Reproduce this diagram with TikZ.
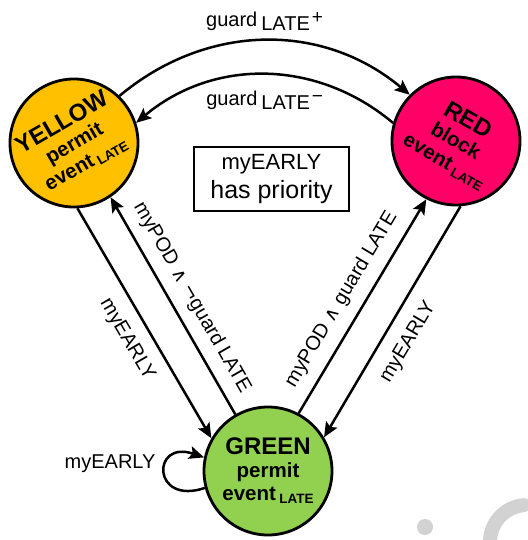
\documentclass[tikz,border=0pt]{standalone}
\usepackage{fontspec}
\setmainfont{Liberation Sans}
\newfontfamily\symfont{DejaVu Sans}
\usetikzlibrary{arrows.meta}

\definecolor{cyellow}{HTML}{FFC000}
\definecolor{cred}{HTML}{FF0066}
\definecolor{cgreen}{HTML}{92D050}

\newcommand{\lsub}[1]{\,\raisebox{-3pt}{\fontsize{13.5}{14}\selectfont#1}}
\newcommand{\glate}{guard\hspace{4pt}\raisebox{-4pt}{LATE}}
\newcommand{\sgn}[1]{\hspace{2pt}\raisebox{3pt}{\fontsize{19}{19}\selectfont#1}}
\newcommand{\sym}[1]{{\symfont\fontsize{19}{19}\selectfont#1}}

\begin{document}
\begin{tikzpicture}[x=1pt, y=1pt, >={Stealth[length=15pt,width=13pt,inset=3pt]}, line width=2.5pt,
    state/.style={circle, draw, line width=2.8pt, minimum size=128pt, inner sep=0pt, align=center,
      font=\bfseries\fontsize{20.5}{23}\selectfont},
    lbl/.style={font=\fontsize{20}{22}\selectfont, inner sep=2pt}]

    \useasboundingbox (0,0) rectangle (527,-540);

    \node[state, fill=cyellow, rotate=30] (yellow) at (74,-143)
      {{\fontsize{24}{26}\selectfont YELLOW}\\permit\\event\lsub{LATE}};
    \node[state, fill=cred, rotate=-30] (red) at (456,-141)
      {{\fontsize{24}{26}\selectfont RED}\\block\\event\lsub{LATE}};
    \node[state, fill=cgreen] (green) at (268,-471)
      {{\fontsize{24}{27}\selectfont GREEN}\\permit\\event\lsub{LATE}};

    \node[draw, line width=1.3pt, minimum width=155pt, minimum height=64pt, align=center,
      font=\fontsize{25}{29}\selectfont] (prio) at (271.5,-179)
      {{\fontsize{22}{26}\selectfont myEARLY}\\has priority};

    \draw[->] (yellow.16) to[out=40, in=140]
      node[lbl, midway, above=7pt] {\glate\sgn{+}} (red.165);
    \draw[->] (red.194) to[out=140, in=40]
      node[lbl, midway, below=13pt] {\glate\sgn{−}} (yellow.-12);

    \draw[->] (yellow.-117) -- node[lbl, sloped, pos=.52, below=11pt] {myEARLY} (green.150);
    \draw[->] (green.120) -- node[lbl, sloped, pos=.49, above=8pt]
      {myPOD \sym{∧} \sym{¬}guard LATE} (yellow.-86);
    \draw[->] (green.62.6) -- node[lbl, sloped, pos=.48, above=9pt]
      {myPOD \sym{∧} guard LATE} (red.-87);
    \draw[->] (red.-56.6) -- node[lbl, sloped, pos=.535, below=12pt] {myEARLY} (green.31);

    \draw[->] (green.195) .. controls +(-53,-18) and +(-53,18) ..
      node[lbl, pos=.5, anchor=east, xshift=-6pt, yshift=9pt] {myEARLY} (green.168);

    \fill[gray!35] (425,-527) circle (8);
    \draw[gray!35, line width=14pt, line cap=round] (527,-542) ++(95:37) arc (95:185:37);

\end{tikzpicture}
\end{document}
